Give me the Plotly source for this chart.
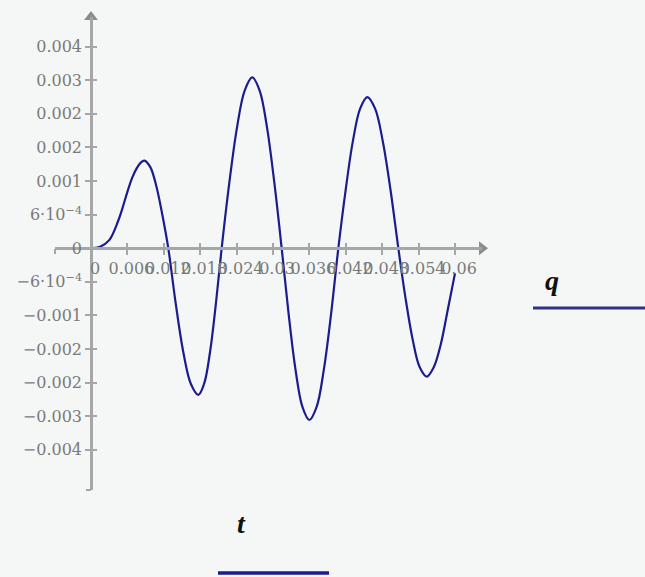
import plotly.graph_objects as go

# Response q(t) sampled along the curve
t_vals = [0, 0.0015, 0.003, 0.0045, 0.0052, 0.006, 0.0068, 0.0075, 0.0082, 0.00879,
          0.00978, 0.01077, 0.01175, 0.01274,
          0.01398, 0.01521, 0.01645, 0.01769,
          0.01865, 0.01962, 0.02058, 0.02154,
          0.0228, 0.02407, 0.02533, 0.02659,
          0.0278, 0.02901, 0.03022, 0.03143,
          0.03257, 0.03371, 0.03485, 0.03599,
          0.03719, 0.03838, 0.03958, 0.04077,
          0.04197, 0.04316, 0.04436, 0.04555,
          0.04683, 0.0481, 0.04938, 0.05066,
          0.05183, 0.0530, 0.05417, 0.05534,
          0.05651, 0.05767, 0.05884, 0.0600]
q_vals = [0, 0.00003, 0.00016, 0.00055, 0.0008, 0.00112, 0.0014, 0.00158, 0.0017, 0.00174,
          0.00161, 0.00123, 0.00067, 0,
          -0.00111, -0.00206, -0.00269, -0.00291,
          -0.00269, -0.00206, -0.00111, 0,
          0.0013, 0.0024, 0.00313, 0.00339,
          0.00313, 0.0024, 0.0013, 0,
          -0.0013, -0.00241, -0.00315, -0.00341,
          -0.00315, -0.00241, -0.0013, 0,
          0.00115, 0.00212, 0.00277, 0.0030,
          0.00277, 0.00212, 0.00115, 0,
          -0.00098, -0.0018, -0.00236, -0.00255,
          -0.00236, -0.0019, -0.0012, -0.0005]

# Axis ticks and their labels
x_ticks = [0, 0.006, 0.012, 0.018, 0.024, 0.03, 0.036, 0.042, 0.048, 0.054, 0.06]
x_labels = ["0", "0.006", "0.012", "0.018", "0.024", "0.03", "0.036", "0.042",
            "0.048", "0.054", "0.06"]
y_ticks = [k * 0.004 / 6 for k in range(6, -7, -1)]
y_labels = ["0.004", "0.003", "0.002", "0.002", "0.001", "6·10<sup>−4</sup>", "0",
            "−6·10<sup>−4</sup>", "−0.001", "−0.002", "−0.002", "−0.003", "−0.004"]

W, H = 645, 577
x_range = [-0.006, 0.06445]
y_range = [-0.0048, 0.00459]

x_dom = [54.6 / W, 482 / W]
y_dom = [(H - 490) / H, (H - 17) / H]

# axis crossing positions in paper fractions
x_axis_pos = y_dom[0] + (0 - y_range[0]) / (y_range[1] - y_range[0]) * (y_dom[1] - y_dom[0])
y_axis_pos = x_dom[0] + (0 - x_range[0]) / (x_range[1] - x_range[0]) * (x_dom[1] - x_dom[0])

AX = "#a6a6a6"
LBL = dict(family="DejaVu Serif", size=16, color="#7a7a7a")
CURVE = "#1c1c8e"

fig = go.Figure()
fig.add_trace(go.Scatter(x=t_vals, y=q_vals, mode="lines",
                         line=dict(color=CURVE, width=2.2, shape="spline", smoothing=1.0),
                         hoverinfo="skip", showlegend=False))
# arrowheads at the positive ends of both axes
fig.add_trace(go.Scatter(x=[0, x_range[1]], y=[y_range[1], 0], mode="markers",
                         marker=dict(symbol=["triangle-up", "triangle-right"], size=12,
                                     color="#8c8c8c", line=dict(width=0)),
                         cliponaxis=False, hoverinfo="skip", showlegend=False))

common = dict(showgrid=False, zeroline=False, tickcolor=AX, tickwidth=1.5, ticklen=5)
x_place = dict(domain=x_dom, range=x_range, anchor="free", position=x_axis_pos, tickmode="array")
y_place = dict(domain=y_dom, range=y_range, anchor="free", position=y_axis_pos, tickmode="array")

fig.update_layout(
    width=W, height=H, margin=dict(l=0, r=0, t=0, b=0),
    paper_bgcolor="#f4f7f5", plot_bgcolor="#f4f7f5",
    # labelled axes, ticks on the outer side
    xaxis=dict(**x_place, tickvals=x_ticks, ticktext=x_labels, ticks="outside", tickangle=0,
               showline=True, linecolor=AX, linewidth=2.5, tickfont=LBL,
               ticklabelshift=4, **common),
    yaxis=dict(**y_place, tickvals=y_ticks, ticktext=y_labels, ticks="outside",
               showline=True, linecolor=AX, linewidth=2.5, tickfont=LBL, **common),
    # inner halves of the tick crosses, plus the end caps
    xaxis2=dict(**x_place, overlaying="x", tickvals=[x_range[0]] + x_ticks, ticks="inside",
                showticklabels=False, showline=False, **common),
    yaxis2=dict(**y_place, overlaying="y", tickvals=y_ticks + [y_range[0]], ticks="inside",
                showticklabels=False, showline=False, **common),
    xaxis3=dict(**x_place, overlaying="x", tickvals=[x_range[0]], ticks="outside",
                showticklabels=False, showline=False, **common),
    yaxis3=dict(**y_place, overlaying="y", tickvals=[y_range[0]], ticks="outside",
                showticklabels=False, showline=False, **common),
)
fig.add_trace(go.Scatter(x=[None], y=[None], xaxis="x2", yaxis="y2", showlegend=False))
fig.add_trace(go.Scatter(x=[None], y=[None], xaxis="x3", yaxis="y3", showlegend=False))

# variable names with their trace swatches
TITLE = dict(family="Liberation Serif", size=28, color="#111111")
fig.add_annotation(text="<b><i>t</i></b>", xref="paper", yref="paper",
                   x=241.5 / W, y=1 - 541 / H, showarrow=False, font=TITLE)
fig.add_annotation(text="<b><i>q</i></b>", xref="paper", yref="paper",
                   x=561 / W, y=1 - 280 / H, showarrow=False, font=TITLE)
fig.add_shape(type="line", xref="paper", yref="paper",
              x0=218 / W, x1=329 / W, y0=1 - 573 / H, y1=1 - 573 / H,
              line=dict(color=CURVE, width=3.5))
fig.add_shape(type="line", xref="paper", yref="paper",
              x0=533 / W, x1=1.0, y0=1 - 308 / H, y1=1 - 308 / H,
              line=dict(color="#303088", width=3))

fig.write_html("out.html")
